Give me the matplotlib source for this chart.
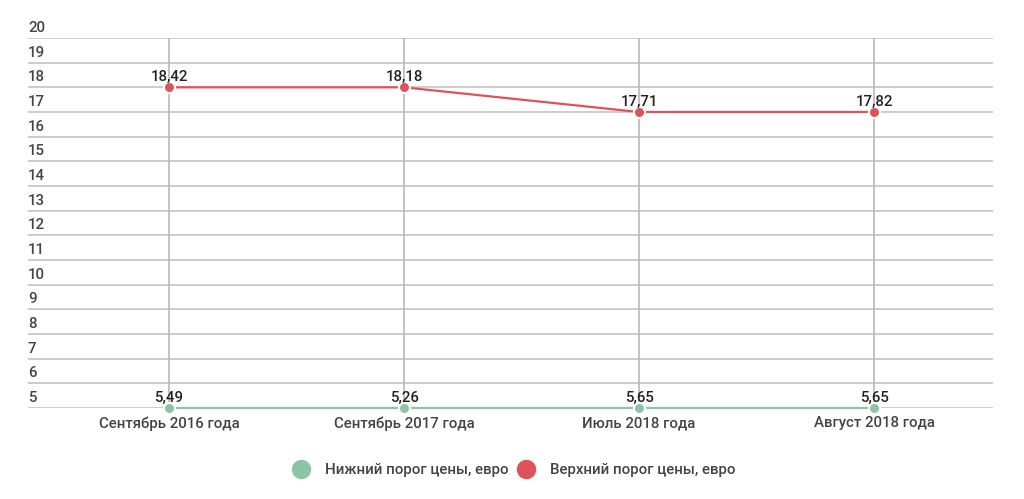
import matplotlib
matplotlib.use("Agg")
import matplotlib.pyplot as plt
from matplotlib.lines import Line2D
from matplotlib.transforms import ScaledTranslation, blended_transform_factory
import numpy as np

plt.rcParams['font.family'] = ['Roboto', 'DejaVu Sans']
plt.rcParams['font.weight'] = 500

categories = ["Сентябрь 2016 года", "Сентябрь 2017 года", "Июль 2018 года", "Август 2018 года"]
lower = [5.49, 5.26, 5.65, 5.65]
upper = [18.42, 18.18, 17.71, 17.82]
series_names = ["Нижний порог цены, евро", "Верхний порог цены, евро"]
yticks = list(range(5, 21))

green = "#8dc5a4"
red = "#e0525a"
text_dark = "#222222"
text_mid = "#444444"
grid_c = "#c8c8c8"
fs = 10.8

fig = plt.figure(figsize=(10.24, 4.99), dpi=100)
ax = fig.add_axes([28/1024, (499-408)/499, (993-28)/1024, (408-38)/499])

x = np.arange(len(categories))
ax.set_xlim(-0.6, 3.506)
ax.set_ylim(5, 20)

for v in yticks:
    ax.axhline(v, color=grid_c, lw=1.3, zorder=0)
for xi in x:
    ax.axvline(xi, color="#bdbdbd", lw=1.3, zorder=0)

for vals, col in ((lower, green), (upper, red)):
    yplot = np.floor(vals)
    ax.plot(x, yplot, color=col, lw=1.6, marker='o', markersize=8,
            markeredgecolor='white', markeredgewidth=1.5, zorder=3, clip_on=False)
    for xi, yi, v in zip(x, yplot, vals):
        ax.annotate(f"{v:.2f}".replace('.', ','), (xi, yi), xytext=(0, 2.5),
                    textcoords='offset points', ha='center', va='bottom',
                    fontsize=fs, color=text_dark, zorder=4)

ax.set_yticks([])
trans = blended_transform_factory(ax.transAxes, ax.transData) + ScaledTranslation(0, 10/100, fig.dpi_scale_trans)
for v in yticks:
    ax.text(0, v, str(v), transform=trans, ha='left', va='center', fontsize=fs, color=text_mid)

ax.set_xticks(x)
ax.set_xticklabels(categories, fontsize=fs, color=text_mid)
ax.tick_params(axis='x', length=0, pad=6)
for s in ax.spines.values():
    s.set_visible(False)

handles = [Line2D([], [], ls='none', marker='o', markersize=13, color=green),
           Line2D([], [], ls='none', marker='o', markersize=13, color=red)]
leg = fig.legend(handles, series_names, loc='center', bbox_to_anchor=(0.499, 1-470/499),
                 ncol=2, frameon=False, fontsize=fs, handletextpad=0.6, columnspacing=0.15,
                 labelcolor=text_mid)

fig.savefig("out.png", dpi=100)
